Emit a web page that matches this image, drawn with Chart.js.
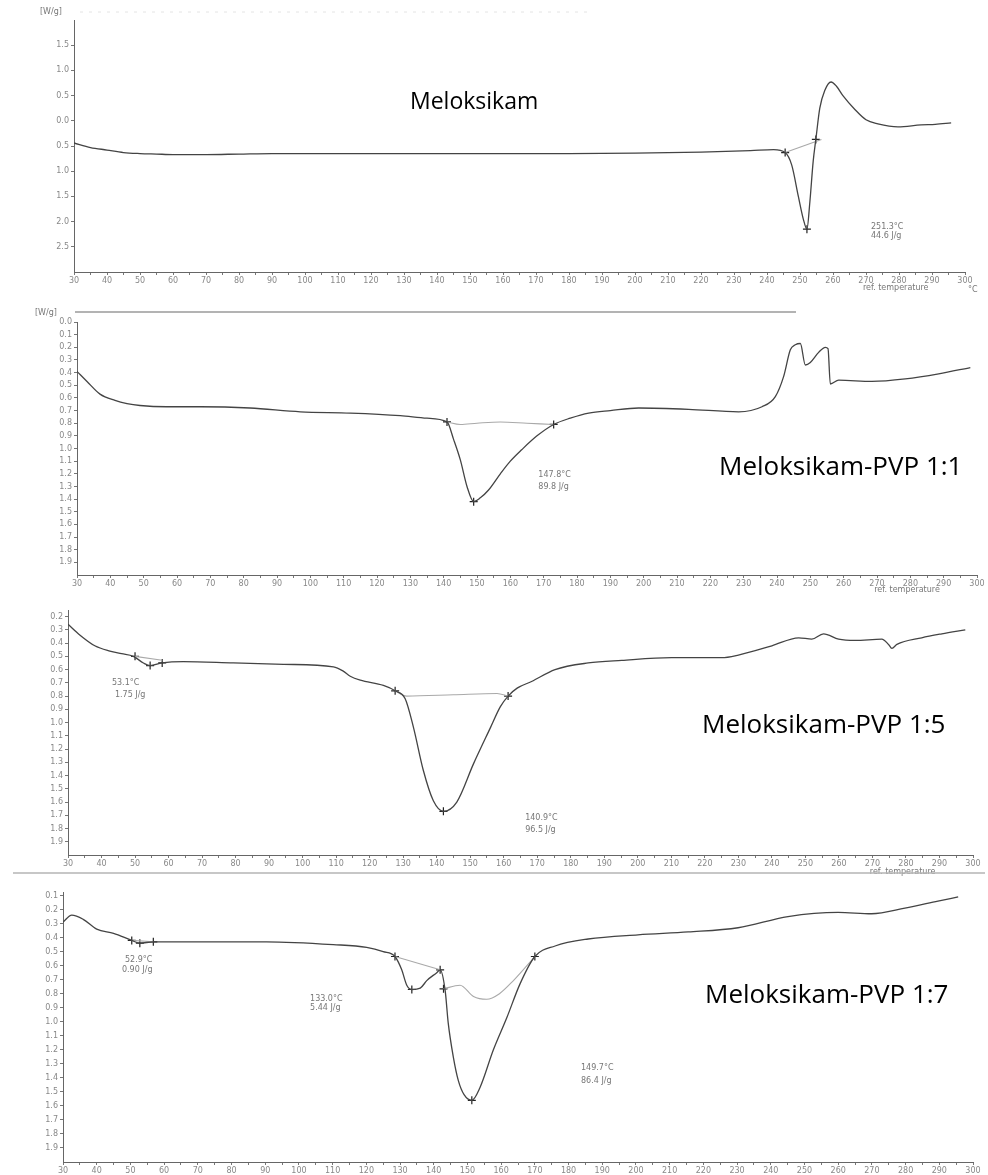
<!DOCTYPE html>
<html>
<head>
<meta charset="utf-8">
<script src="https://cdn.jsdelivr.net/npm/chart.js@4.4.1/dist/chart.umd.min.js"></script>
<style>
  body { margin: 0; background: #fff; width: 988px; height: 1175px; position: relative; overflow: hidden; }
  canvas { position: absolute; left: 0; }
  .title { position: absolute; font-family: "Open Sans", sans-serif; color: #000; white-space: nowrap; line-height: 32px; }
</style>
</head>
<body>
<canvas id="c1" width="988" height="300" style="top:0"></canvas>
<canvas id="c2" width="988" height="296" style="top:300px"></canvas>
<canvas id="c3" width="988" height="290" style="top:590px"></canvas>
<canvas id="c4" width="988" height="295" style="top:880px"></canvas>
<div class="title" style="left:410px;top:84px;font-size:23px">Meloksikam</div>
<div class="title" style="left:719px;top:449px;font-size:26px">Meloksikam-PVP 1:1</div>
<div class="title" style="left:702px;top:707px;font-size:26px">Meloksikam-PVP 1:5</div>
<div class="title" style="left:705px;top:977px;font-size:26px">Meloksikam-PVP 1:7</div>
<script>
// temperature axis labels (°C)
const xLabels = [30,40,50,60,70,80,90,100,110,120,130,140,150,160,170,180,190,200,210,220,230,240,250,260,270,280,290,300];

// Meloksikam (heat flow, W/g)
const t1 = [30,35,40,45,50,55,60,70,80,90,100,120,140,160,180,200,220,235,242,245.5,247.5,249.5,251,252.1,253,254,254.8,256,257.5,259.4,261,263,266.7,270,273.6,279.7,286.7,291,295.8];
const hf1 = [-0.44,-0.53,-0.58,-0.63,-0.65,-0.66,-0.67,-0.67,-0.66,-0.65,-0.65,-0.65,-0.65,-0.65,-0.65,-0.64,-0.62,-0.59,-0.57,-0.63,-0.88,-1.5,-1.95,-2.15,-1.6,-0.8,-0.37,0.25,0.6,0.77,0.69,0.5,0.22,0.02,-0.06,-0.12,-0.08,-0.07,-0.04];
const base1T = [245.5,256.5];
const base1V = [-0.63,-0.37];
const mark1T = [245.5,252.1,254.8];
const mark1V = [-0.63,-2.15,-0.37];
const yTicks1 = [1.5,1.0,0.5,0.0,-0.5,-1.0,-1.5,-2.0,-2.5];

// Meloksikam-PVP 1:1
const t2 = [30,33,36.9,41.4,45,48.9,56.9,66.9,81.9,97,112,127,135,141,143,145,147,149,151,153.4,157,160,163.4,168,173,178,183.5,190,198.5,213.5,228.5,235.5,239.5,242,244,245.5,247,248.5,250,252.5,254.5,255.3,256,258.5,268.5,278.5,288.5,298];
const hf2 = [0.39,0.47,0.57,0.62,0.645,0.66,0.67,0.67,0.68,0.71,0.72,0.74,0.76,0.79,0.93,1.09,1.30,1.42,1.39,1.33,1.20,1.10,1.01,0.90,0.81,0.76,0.72,0.70,0.68,0.69,0.71,0.67,0.59,0.43,0.22,0.18,0.17,0.34,0.32,0.24,0.20,0.21,0.49,0.46,0.47,0.45,0.41,0.36];
const base2T = [141,145,150,157,165,173];
const base2V = [0.79,0.81,0.80,0.79,0.80,0.81];
const mark2T = [141,149,173];
const mark2V = [0.79,1.42,0.81];
const yTicks2 = [0.0,0.1,0.2,0.3,0.4,0.5,0.6,0.7,0.8,0.9,1.0,1.1,1.2,1.3,1.4,1.5,1.6,1.7,1.8,1.9];

// Meloksikam-PVP 1:5
const t3 = [30,33.6,38,42.5,46,49.5,52.5,54.5,58,64.4,79.3,94.3,109.2,112,114.2,117.2,124.1,127.6,130.6,133.1,136,139,142,146,151,156,159,161.3,164,168.3,175.3,185.2,195.2,210.1,225,230,240,248,251.9,255.4,259.9,264.8,272.8,274.8,275.8,277.3,284.7,290.7,297.7];
const hf3 = [0.257,0.34,0.42,0.46,0.48,0.50,0.55,0.57,0.55,0.54,0.55,0.56,0.58,0.61,0.65,0.68,0.72,0.76,0.82,1.04,1.36,1.59,1.67,1.60,1.31,1.04,0.88,0.80,0.74,0.69,0.60,0.55,0.53,0.51,0.51,0.49,0.42,0.36,0.37,0.33,0.37,0.38,0.37,0.41,0.44,0.41,0.36,0.33,0.30];
const base3aT = [50,58.1];
const base3aV = [0.50,0.53];
const base3bT = [127.6,131,145,158,161.3];
const base3bV = [0.76,0.80,0.79,0.78,0.80];
const mark3T = [50,54.5,58.1,127.6,142,161.3];
const mark3V = [0.50,0.57,0.55,0.76,1.67,0.80];
const yTicks3 = [0.2,0.3,0.4,0.5,0.6,0.7,0.8,0.9,1.0,1.1,1.2,1.3,1.4,1.5,1.6,1.7,1.8,1.9];

// Meloksikam-PVP 1:7
const t4 = [30,32.6,36,40,45,50.4,52.8,56.8,70.7,90.4,110.2,120.1,125,128.5,130.5,132,133.5,136,138,140.9,141.9,143.4,144.3,145.8,147.3,149,151.3,153.7,157.7,161.7,165.6,170,176,185.8,200.6,215.5,230.3,245.1,260,269.9,279.8,289.6,295.6];
const hf4 = [0.29,0.24,0.27,0.34,0.37,0.42,0.44,0.43,0.43,0.43,0.45,0.47,0.50,0.535,0.63,0.74,0.77,0.76,0.705,0.65,0.63,0.78,1.01,1.25,1.42,1.52,1.56,1.47,1.20,0.97,0.73,0.535,0.46,0.41,0.38,0.36,0.33,0.25,0.22,0.23,0.19,0.14,0.11];
const base4aT = [50.4,56.8];
const base4aV = [0.42,0.43];
const base4bT = [128.5,141.9];
const base4bV = [0.535,0.63];
const base4cT = [142.9,147.8,151.8,155.7,159.5,163.5,170];
const base4cV = [0.765,0.74,0.82,0.84,0.80,0.71,0.535];
const mark4T = [50.4,52.8,56.8,128.5,133.5,141.9,142.9,151.3,170];
const mark4V = [0.42,0.44,0.43,0.535,0.77,0.63,0.765,1.56,0.535];
const yTicks4 = [0.1,0.2,0.3,0.4,0.5,0.6,0.7,0.8,0.9,1.0,1.1,1.2,1.3,1.4,1.5,1.6,1.7,1.8,1.9];

// peak annotations (placed in data space)
const notes1 = [{text: '251.3°C', t: 271.5, v: -2.1}, {text: '44.6 J/g', t: 271.5, v: -2.28}];
const notes2 = [{text: '147.8°C', t: 168.4, v: 1.21}, {text: '89.8 J/g', t: 168.4, v: 1.30}];
const notes3 = [{text: '53.1°C', t: 43.1, v: 0.70}, {text: '1.75 J/g', t: 44, v: 0.79},
                {text: '140.9°C', t: 166.4, v: 1.72}, {text: '96.5 J/g', t: 166.4, v: 1.81}];
const notes4 = [{text: '52.9°C', t: 48.4, v: 0.556}, {text: '0.90 J/g', t: 47.5, v: 0.627},
                {text: '133.0°C', t: 103.3, v: 0.834}, {text: '5.44 J/g', t: 103.3, v: 0.898},
                {text: '149.7°C', t: 183.7, v: 1.326}, {text: '86.4 J/g', t: 183.7, v: 1.42}];

const xy = (ts, vs) => ts.map((t, i) => ({x: t, y: vs[i]}));
const tickFont = {size: 8, family: 'DejaVu Sans'};

const decor = {
  id: 'decor',
  afterDraw(chart, args, o) {
    const {ctx, chartArea: a, scales: {x, y}} = chart;
    ctx.save();
    ctx.fillStyle = '#777';
    ctx.font = '8px "DejaVu Sans"';
    ctx.textBaseline = 'middle';
    (o.notes || []).forEach(n => {
      ctx.fillText(n.text, x.getPixelForValue(n.t), y.getPixelForValue(n.v));
    });
    if (o.unit) ctx.fillText('[W/g]', a.left - o.unit[0], a.top - o.unit[1]);
    if (o.ref) {
      ctx.textAlign = 'center';
      ctx.fillText('ref. temperature', x.getPixelForValue(279), a.bottom + o.ref);
    }
    if (o.degC) {
      ctx.textAlign = 'left';
      ctx.fillText('°C', a.right + 3, a.bottom + 18);
    }
    (o.lines || []).forEach(l => {
      ctx.strokeStyle = l[4];
      ctx.lineWidth = l[5];
      ctx.setLineDash(l[6] || []);
      ctx.beginPath();
      ctx.moveTo(l[0], l[1]);
      ctx.lineTo(l[2], l[3]);
      ctx.stroke();
    });
    ctx.restore();
  }
};

function makePanel(id, cfg) {
  const sets = [{
    data: xy(cfg.t, cfg.v), borderColor: '#444', borderWidth: 1.3,
    pointRadius: 0, cubicInterpolationMode: 'monotone'
  }];
  cfg.bases.forEach(b => sets.push({
    data: xy(b[0], b[1]), borderColor: '#a9a9a9', borderWidth: 1.1,
    pointRadius: 0, cubicInterpolationMode: 'monotone'
  }));
  sets.push({
    data: xy(cfg.markT, cfg.markV), showLine: false, pointStyle: 'cross',
    pointRadius: 4, borderColor: '#222', borderWidth: 1.2
  });
  new Chart(document.getElementById(id), {
    type: 'line',
    data: {datasets: sets},
    options: {
      responsive: false,
      animation: false,
      events: [],
      layout: {padding: cfg.pad},
      plugins: {legend: {display: false}, tooltip: {enabled: false}, decor: cfg.decor},
      scales: {
        x: {
          type: 'linear', min: 30, max: 300,
          afterBuildTicks: ax => { ax.ticks = xLabels.flatMap(v => v < 300 ? [v, v + 5] : [v]).map(v => ({value: v})); },
          afterFit: s => { s.height = cfg.xH; },
          ticks: {callback: v => v % 10 === 0 ? String(v) : '', autoSkip: false, maxRotation: 0,
                  color: '#888', font: tickFont, padding: 1},
          grid: {drawOnChartArea: false, tickLength: 3, color: '#777'},
          border: {color: '#666', width: 1}
        },
        y: {
          type: 'linear', min: cfg.yMin, max: cfg.yMax, reverse: cfg.reverse,
          afterBuildTicks: ax => { ax.ticks = cfg.yTicks.map(v => ({value: v})); },
          afterFit: s => { s.width = 40; },
          ticks: {callback: v => Math.abs(v).toFixed(1), color: '#888', font: tickFont, padding: 2},
          grid: {drawOnChartArea: false, tickLength: 3, color: '#777'},
          border: {color: '#666', width: 1}
        }
      }
    },
    plugins: [decor]
  });
}

makePanel('c1', {
  t: t1, v: hf1, bases: [[base1T, base1V]], markT: mark1T, markV: mark1V,
  yMin: -3.0, yMax: 2.0, reverse: false, yTicks: yTicks1,
  pad: {top: 20, left: 34, right: 23, bottom: 0}, xH: 28,
  decor: {notes: notes1, unit: [34, 8], ref: 16, degC: true,
          lines: [[80, 12, 590, 12, '#e4e4e4', 1, [3, 6]]]}
});
makePanel('c2', {
  t: t2, v: hf2, bases: [[base2T, base2V]], markT: mark2T, markV: mark2V,
  yMin: 0.0, yMax: 2.0, reverse: true, yTicks: yTicks2,
  pad: {top: 22, left: 37, right: 11, bottom: 0}, xH: 21,
  decor: {notes: notes2, unit: [42, 9], ref: 15,
          lines: [[75, 12, 796, 12, '#9a9a9a', 1.5]]}
});
makePanel('c3', {
  t: t3, v: hf3, bases: [[base3aT, base3aV], [base3bT, base3bV]], markT: mark3T, markV: mark3V,
  yMin: 0.15, yMax: 2.0, reverse: true, yTicks: yTicks3,
  pad: {top: 20, left: 28, right: 15, bottom: 0}, xH: 25,
  decor: {notes: notes3, ref: 17,
          lines: [[13, 283, 985, 283, '#b5b5b5', 1.5]]}
});
makePanel('c4', {
  t: t4, v: hf4, bases: [[base4aT, base4aV], [base4bT, base4bV], [base4cT, base4cV]], markT: mark4T, markV: mark4V,
  yMin: 0.075, yMax: 2.0, reverse: true, yTicks: yTicks4,
  pad: {top: 12, left: 23, right: 15, bottom: 0}, xH: 13,
  decor: {notes: notes4}
});
</script>
</body>
</html>
